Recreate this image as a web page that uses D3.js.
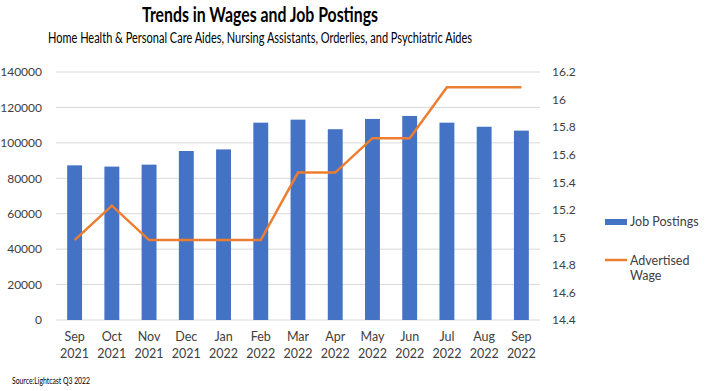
<!DOCTYPE html>
<html><head><meta charset="utf-8">
<script src="https://cdn.jsdelivr.net/npm/d3@7"></script>
<style>body{margin:0;background:#fff}svg{display:block;font-family:Lato,"Open Sans",sans-serif}</style>
</head><body><svg id="c" width="706" height="391"></svg>
<script>
const months = ["Sep","Oct","Nov","Dec","Jan","Feb","Mar","Apr","May","Jun","Jul","Aug","Sep"];
const years = ["2021","2021","2021","2021","2022","2022","2022","2022","2022","2022","2022","2022","2022"];
const jobPostings = [87300,86600,87700,95400,96300,111400,113100,107700,113500,115200,111400,109100,106900];
const advertisedWage = [14.98,15.23,14.98,14.98,14.98,14.98,15.47,15.47,15.72,15.72,16.09,16.09,16.09];
const leftTicks = [0,20000,40000,60000,80000,100000,120000,140000];
const rightTicks = [14.4,14.6,14.8,15,15.2,15.4,15.6,15.8,16,16.2];

const svg = d3.select("#c");
const L=56,R=540,T=72,B=320;
const idx = months.map((m,i)=>i);
const x = d3.scaleBand().domain(idx).range([L,R]).paddingInner(0.6).paddingOuter(0.3);
const yL = d3.scaleLinear().domain([0,140000]).range([B,T]);
const yR = d3.scaleLinear().domain([14.4,16.2]).range([B,T]);

svg.append("g").selectAll("line").data(leftTicks).join("line")
  .attr("x1",L).attr("x2",R).attr("y1",d=>yL(d)).attr("y2",d=>yL(d))
  .attr("stroke","#d9d9d9").attr("stroke-width",1);

const ax = svg.append("g").attr("transform",`translate(${L-11},0)`)
  .call(d3.axisLeft(yL).tickValues(leftTicks).tickSize(0).tickFormat(d3.format("d")));
ax.select(".domain").remove();
ax.selectAll("text").attr("font-size",12).attr("fill","#404040").attr("font-family","Lato,sans-serif");

const ar = svg.append("g").attr("transform",`translate(${R+9},0)`)
  .call(d3.axisRight(yR).tickValues(rightTicks).tickSize(0).tickFormat(d=>String(+d.toFixed(1))));
ar.select(".domain").remove();
ar.selectAll("text").attr("font-size",12).attr("fill","#404040").attr("font-family","Lato,sans-serif");

svg.append("g").selectAll("rect").data(jobPostings).join("rect")
  .attr("x",(d,i)=>x(i)).attr("width",x.bandwidth())
  .attr("y",d=>yL(d)).attr("height",d=>B-yL(d)).attr("fill","#4472C4");

svg.append("path").datum(advertisedWage)
  .attr("d",d3.line().x((d,i)=>x(i)+x.bandwidth()/2).y(d=>yR(d)))
  .attr("fill","none").attr("stroke","#ED7D31").attr("stroke-width",2.5);

const xl = svg.append("g").selectAll("text").data(idx).join("text")
  .attr("x",i=>x(i)+x.bandwidth()/2).attr("text-anchor","middle")
  .attr("font-size",12.5).attr("fill","#404040");
xl.append("tspan").attr("x",i=>x(i)+x.bandwidth()/2).attr("y",341).text(i=>months[i]);
xl.append("tspan").attr("x",i=>x(i)+x.bandwidth()/2).attr("y",358).text(i=>years[i]);

svg.append("text").attr("x",260).attr("y",22).attr("text-anchor","middle")
  .attr("font-size",21).attr("font-weight","bold").attr("fill","#000")
  .attr("textLength",236).attr("lengthAdjust","spacingAndGlyphs").text("Trends in Wages and Job Postings");
svg.append("text").attr("x",260).attr("y",43).attr("text-anchor","middle")
  .attr("font-size",14.5).attr("fill","#000")
  .attr("textLength",424).attr("lengthAdjust","spacingAndGlyphs")
  .text("Home Health & Personal Care Aides, Nursing Assistants, Orderlies, and Psychiatric Aides");
svg.append("text").attr("x",12).attr("y",384).attr("font-size",10).attr("fill","#000")
  .attr("textLength",78).attr("lengthAdjust","spacingAndGlyphs").text("Source:Lightcast Q3 2022");

const lg = svg.append("g");
lg.append("rect").attr("x",605).attr("y",219).attr("width",22).attr("height",6).attr("fill","#4472C4");
lg.append("text").attr("x",630).attr("y",226).attr("font-size",12.5).attr("fill","#404040").text("Job Postings");
lg.append("line").attr("x1",605).attr("x2",627).attr("y1",260).attr("y2",260).attr("stroke","#ED7D31").attr("stroke-width",2.5);
lg.append("text").attr("x",630).attr("y",265).attr("font-size",12.5).attr("fill","#404040").text("Advertised");
lg.append("text").attr("x",630).attr("y",280).attr("font-size",12.5).attr("fill","#404040").text("Wage");
</script></body></html>
